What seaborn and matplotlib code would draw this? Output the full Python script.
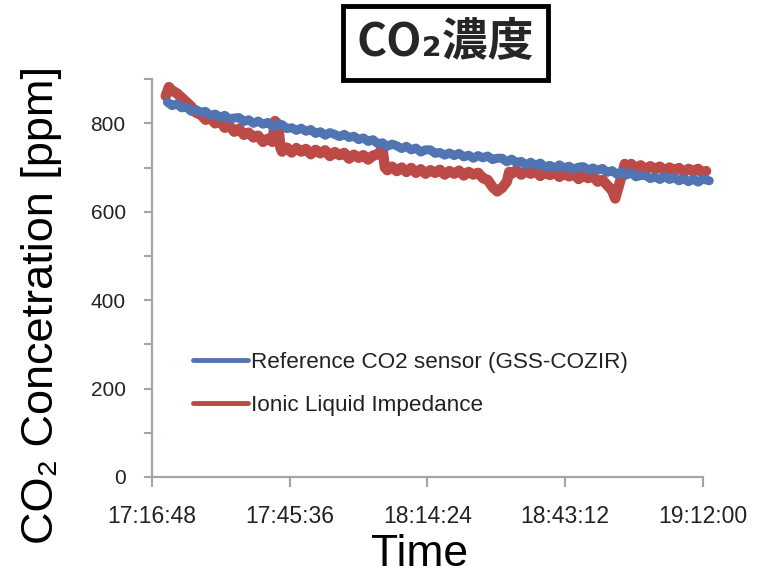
import matplotlib
matplotlib.use("Agg")
import matplotlib.pyplot as plt
import matplotlib.dates as mdates
from matplotlib.lines import Line2D
import pandas as pd
import seaborn as sns

# ---------------- data ----------------
title_text = "CO₂濃度"
y_label = "CO₂ Concetration [ppm]"
x_label = "Time"
legend_labels = ["Reference CO2 sensor (GSS-COZIR)", "Ionic Liquid Impedance"]
x_tick_labels = ["17:16:48", "17:45:36", "18:14:24", "18:43:12", "19:12:00"]
y_ticks = [0, 100, 200, 300, 400, 500, 600, 700, 800, 900]
y_tick_labels = ["0", "", "200", "", "400", "", "600", "", "800", ""]

ref_times = ["17:20", "17:21", "17:22", "17:23", "17:24", "17:25", "17:26", "17:27", "17:28", "17:29",
             "17:30", "17:31", "17:32", "17:33", "17:34", "17:35", "17:36", "17:37", "17:38", "17:39",
             "17:40", "17:41", "17:42", "17:43", "17:44", "17:45", "17:46", "17:47", "17:48", "17:49",
             "17:50", "17:51", "17:52", "17:53", "17:54", "17:55", "17:56", "17:57", "17:58", "17:59",
             "18:00", "18:01", "18:02", "18:03", "18:04", "18:05", "18:06", "18:07", "18:08", "18:09",
             "18:10", "18:11", "18:12", "18:13", "18:14", "18:15", "18:16", "18:17", "18:18", "18:19",
             "18:20", "18:21", "18:22", "18:23", "18:24", "18:25", "18:26", "18:27", "18:28", "18:29",
             "18:30", "18:31", "18:32", "18:33", "18:34", "18:35", "18:36", "18:37", "18:38", "18:39",
             "18:40", "18:41", "18:42", "18:43", "18:44", "18:45", "18:46", "18:47", "18:48", "18:49",
             "18:50", "18:51", "18:52", "18:53", "18:54", "18:55", "18:56", "18:57", "18:58", "18:59",
             "19:00", "19:01", "19:02", "19:03", "19:04", "19:05", "19:06", "19:07", "19:08", "19:09",
             "19:10", "19:11", "19:12", "19:13:20"]
ref_ppm = [848, 840, 844, 835, 837, 827, 831, 825, 827, 817,
           821, 814, 818, 810, 812, 813, 804, 808, 800, 805,
           798, 802, 793, 797, 797, 788, 790, 784, 789, 782,
           786, 777, 781, 773, 779, 775, 770, 775, 768, 771,
           763, 767, 759, 763, 754, 756, 748, 753, 749, 743,
           748, 740, 744, 735, 740, 740, 732, 734, 728, 733,
           727, 732, 724, 728, 721, 727, 722, 726, 718, 721,
           721, 713, 719, 711, 714, 706, 712, 705, 710, 701,
           705, 699, 706, 699, 703, 696, 701, 702, 695, 699,
           694, 698, 689, 693, 685, 690, 683, 688, 679, 682,
           682, 675, 679, 673, 680, 673, 677, 670, 675, 668,
           674, 667, 674, 670]

il_times = ["17:19:40", "17:20:20", "17:21", "17:22", "17:23", "17:24", "17:25", "17:26", "17:27", "17:28", "17:29",
            "17:30", "17:31", "17:32", "17:33", "17:34", "17:35", "17:36", "17:37", "17:38", "17:39",
            "17:40", "17:41", "17:42", "17:42:30", "17:43:10", "17:43:40", "17:44", "17:45", "17:46", "17:47",
            "17:48", "17:49",
            "17:50", "17:51", "17:52", "17:53", "17:54", "17:55", "17:56", "17:57", "17:58", "17:59",
            "18:00", "18:01", "18:02", "18:03", "18:04", "18:05", "18:05:30", "18:06", "18:07", "18:08", "18:09",
            "18:10", "18:11", "18:12", "18:13", "18:14", "18:15", "18:16", "18:17", "18:18", "18:19",
            "18:20", "18:21", "18:22", "18:23", "18:24", "18:25", "18:26", "18:27", "18:28", "18:29",
            "18:30", "18:31", "18:31:30",
            "18:32", "18:33", "18:34", "18:35", "18:36", "18:37", "18:38", "18:39", "18:40", "18:41",
            "18:42", "18:43", "18:44", "18:45", "18:46", "18:47", "18:48", "18:49",
            "18:50", "18:51", "18:52", "18:53", "18:53:40", "18:54:40", "18:55:40", "18:56", "18:57",
            "18:58", "18:59",
            "19:00", "19:01", "19:02", "19:03", "19:04", "19:05", "19:06", "19:07", "19:08", "19:09",
            "19:10", "19:11", "19:12", "19:12:40"]
il_ppm = [862, 882, 874, 868, 858, 848, 838, 824, 820, 808, 812,
          800, 806, 790, 794, 781, 788, 774, 779, 768, 772,
          758, 765, 758, 805, 798, 744, 736, 745, 734, 744,
          736, 742,
          730, 740, 732, 739, 726, 735, 728, 733, 720, 729,
          722, 728, 718, 727, 730, 742, 700, 694, 702, 692, 700,
          690, 699, 688, 696, 686, 694, 688, 695, 684, 692,
          686, 693, 682, 690, 684, 688, 676, 672, 656, 646,
          654, 668, 690,
          686, 694, 684, 692, 686, 693, 681, 690, 683, 689,
          679, 687, 680, 686, 674, 683, 676, 681,
          668, 672, 660, 648, 630, 668, 708, 700, 708,
          698, 705,
          696, 703, 697, 702, 692, 700, 694, 699, 689, 697,
          691, 697, 687, 692]

# ---------------- style ----------------
blue = "#5075B2"
red = "#BC4A47"
spine_col = "#A8A2A2"
tick_text_col = "#222222"

sns.set_style("white")
plt.rcParams["font.family"] = ["Liberation Sans", "DejaVu Sans"]


def to_dt(ts):
    return pd.to_datetime(["2000-01-01 " + (t if t.count(":") == 2 else t + ":00") for t in ts])


df_ref = pd.DataFrame({"time": to_dt(ref_times), "ppm": ref_ppm})
df_il = pd.DataFrame({"time": to_dt(il_times), "ppm": il_ppm})
xticks = to_dt(x_tick_labels)

fig = plt.figure(figsize=(7.64, 5.8), dpi=100)
ax = fig.add_axes([0.199, 0.1776, 0.721, 0.686])

sns.lineplot(data=df_il, x="time", y="ppm", ax=ax, color=red, lw=7.5,
             solid_capstyle="round", solid_joinstyle="round", clip_on=False)
sns.lineplot(data=df_ref, x="time", y="ppm", ax=ax, color=blue, lw=6.5,
             solid_capstyle="round", solid_joinstyle="round", clip_on=False)

ax.set_xlim(xticks[0], xticks[-1])
ax.set_ylim(0, 900)
ax.set_xticks(xticks)
ax.xaxis.set_major_formatter(mdates.DateFormatter("%H:%M:%S"))
ax.set_yticks(y_ticks)
ax.set_yticklabels(y_tick_labels)

for side in ["top", "right"]:
    ax.spines[side].set_visible(False)
for side in ["left", "bottom"]:
    ax.spines[side].set_color(spine_col)
    ax.spines[side].set_linewidth(1.6)

ax.tick_params(axis="y", direction="out", length=6, width=1.5, color=spine_col,
               labelsize=15, labelcolor=tick_text_col, pad=13, left=True)
ax.tick_params(axis="x", direction="out", length=7, width=1.5, color=spine_col,
               labelsize=16.5, labelcolor=tick_text_col, pad=13, bottom=True)

ax.set_ylabel(y_label, fontsize=32.5, color="black")
ax.yaxis.set_label_coords(-0.163, 0.432)
ax.set_xlabel(x_label, fontsize=32, color="black")
ax.xaxis.set_label_coords(0.486, -0.143)

handles = [Line2D([], [], color=blue, lw=3.5), Line2D([], [], color=red, lw=3.5)]
leg = ax.legend(handles, legend_labels, loc="center left", bbox_to_anchor=(0.074, 0.234),
                frameon=False, fontsize=16.2, borderpad=0, borderaxespad=0,
                handlelength=2.45, handletextpad=0.15, labelspacing=0.95)
for t in leg.get_texts():
    t.set_color("#222222")

fig.text(0.583, 0.926, title_text, ha="center", va="center", fontsize=33,
         fontweight="bold", family=["Noto Sans CJK JP", "DejaVu Sans"],
         bbox=dict(boxstyle="square,pad=0.3", fc="white", ec="black", lw=3.5))

fig.savefig("out.png", dpi=100)
